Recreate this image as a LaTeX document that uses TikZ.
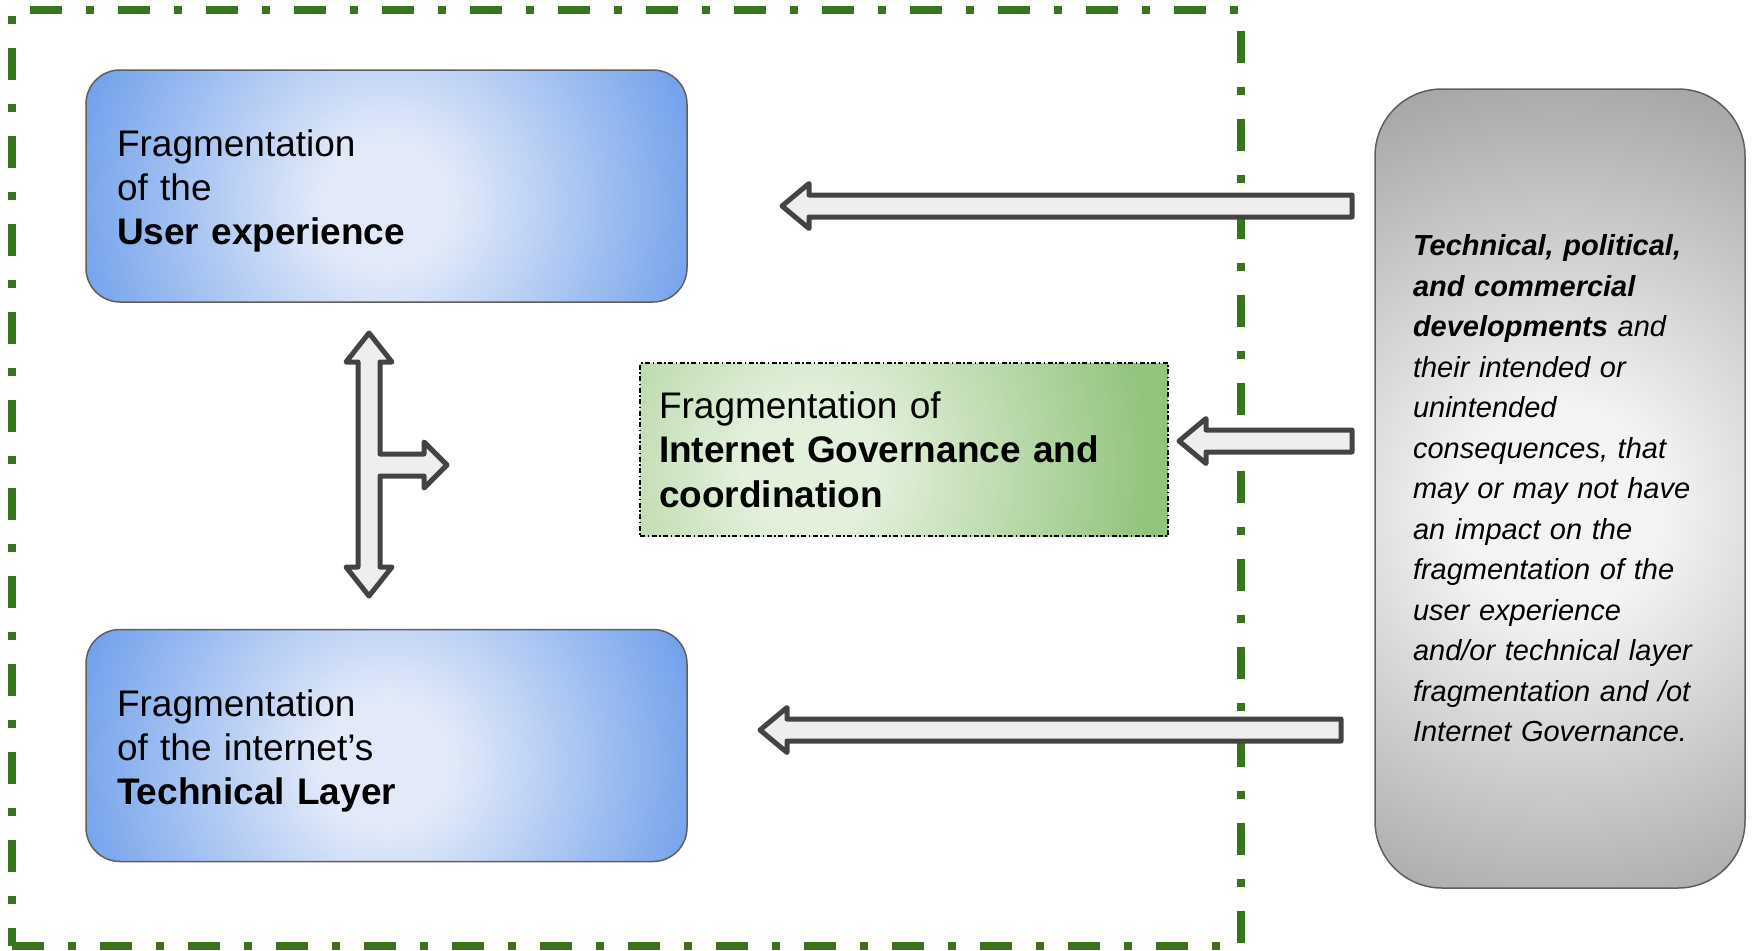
\documentclass[tikz,border=0pt]{standalone}
\usepackage{fontspec}
\setmainfont{Liberation Sans}
\usetikzlibrary{positioning,calc}

\definecolor{framegreen}{HTML}{38761D}
\definecolor{blueout}{HTML}{6D9EEB}
\definecolor{bluein}{HTML}{E2EAF9}
\definecolor{greenout}{HTML}{93C47D}
\definecolor{greenin}{HTML}{E3F0DC}
\definecolor{greyout}{HTML}{A6A6A6}
\definecolor{greyin}{HTML}{F3F3F3}
\definecolor{arrowfill}{HTML}{EEEEEE}
\definecolor{arrowline}{HTML}{434343}
\definecolor{boxline}{HTML}{5F5F5F}

\pgfdeclareradialshading{bluefade}{\pgfpointorigin}{color(0bp)=(bluein); color(2.5bp)=(bluein); color(12.5bp)=(blueout); color(50bp)=(blueout)}
\pgfdeclareradialshading{greenfade}{\pgfpointorigin}{color(0bp)=(greenin); color(2.5bp)=(greenin); color(12.5bp)=(greenout); color(50bp)=(greenout)}
\pgfdeclareradialshading{greyfade}{\pgfpointorigin}{color(0bp)=(greyin); color(3bp)=(greyin); color(12.5bp)=(greyout); color(50bp)=(greyout)}

\newcommand{\flatarrow}[2]{%
  \draw[blockarrow] (#2) -- ([xshift=27pt,yshift=22.5pt]#2) -- ([xshift=27pt,yshift=11pt]#2)
    -- ([yshift=11pt]#1) -- ([yshift=-11pt]#1) -- ([xshift=27pt,yshift=-11pt]#2)
    -- ([xshift=27pt,yshift=-22.5pt]#2) -- cycle;}

\begin{document}
\begin{tikzpicture}[
        x=1pt, y=-1pt, node distance=326pt,
        blockarrow/.style={draw=arrowline, fill=arrowfill, line width=5pt, line join=round}
    ]

    \tikzstyle{block} = [rectangle, rounded corners=34pt, draw=boxline, line width=1.5pt,
        fill=blueout, minimum width=601pt, minimum height=232pt, text width=539pt,
        inner xsep=31pt, align=left, font=\fontsize{37}{44}\selectfont,
        execute at begin node=\rule{0pt}{37pt},
        path picture={\shade[shading=bluefade] ([yshift=-18pt]path picture bounding box.center) circle (660pt);}]
    \tikzstyle{govbox} = [rectangle, draw=black, line width=1.2pt,
        dash pattern=on 5pt off 2.5pt on 1.5pt off 2.5pt,
        fill=greenout, minimum width=528pt, minimum height=173pt, text width=490pt,
        inner xsep=19pt, align=left, font=\fontsize{37}{44.7}\selectfont,
        path picture={\shade[shading=greenfade] ([xshift=-94pt,yshift=-16pt]path picture bounding box.center) circle (680pt);}]
    \tikzstyle{devbox} = [rectangle, rounded corners=67pt, draw=boxline, line width=1.5pt,
        fill=greyout, minimum width=370pt, minimum height=799pt, text width=294pt,
        inner xsep=38pt, align=left, font=\fontsize{29}{40.5}\selectfont\itshape,
        path picture={\shade[shading=greyfade] ([yshift=-19pt]path picture bounding box.center) circle (880pt);}]

    \useasboundingbox (0,0) rectangle (1752,950);

    \node[draw=framegreen, line width=7.5pt, dash pattern=on 32pt off 24pt on 8pt off 24pt,
        minimum width=1229pt, minimum height=936pt, inner sep=0pt] (frame) at (626.5,478) {};

    \node[block] (ux) at (386.5,186) {Fragmentation\\of the\\\textbf{User experience}};
    \node[block] (tl) [below=of ux] {Fragmentation\\of the internet’s\\\textbf{Technical Layer}};
    \node[govbox] (ig) at (904,449.5) {Fragmentation of\\\textbf{Internet Governance and}\\\textbf{coordination}};
    \node[devbox] (dev) at (1560,488.5) {\textbf{Technical, political,}\\\textbf{and commercial}\\\textbf{developments} and\\their intended or\\unintended\\consequences, that\\may or may not have\\an impact on the\\fragmentation of the\\user experience\\and/or technical layer\\fragmentation and /ot\\Internet Governance.};

    \coordinate (ux tail) at (1352,206);
    \coordinate (ux tip) at (782,206);
    \coordinate (ig tail) at (1352,441);
    \coordinate (ig tip) at (1179,441);
    \coordinate (tl tail) at (1341,730);
    \coordinate (tl tip) at (760,730);
    \flatarrow{ux tail}{ux tip}
    \flatarrow{ig tail}{ig tip}
    \flatarrow{tl tail}{tl tip}

    \coordinate (fork) at (369,465);
    \draw[blockarrow] (fork) ++(0,-132) -- ++(23,29) -- ++(-12,0) -- ++(0,92) -- ++(44,0)
        -- ++(0,-12) -- ++(23,23) -- ++(-23,23) -- ++(0,-12) -- ++(-44,0) -- ++(0,91)
        -- ++(12,0) -- ++(-23,29) -- ++(-23,-29) -- ++(12,0) -- ++(0,-205) -- ++(-12,0) -- cycle;

\end{tikzpicture}
\end{document}
